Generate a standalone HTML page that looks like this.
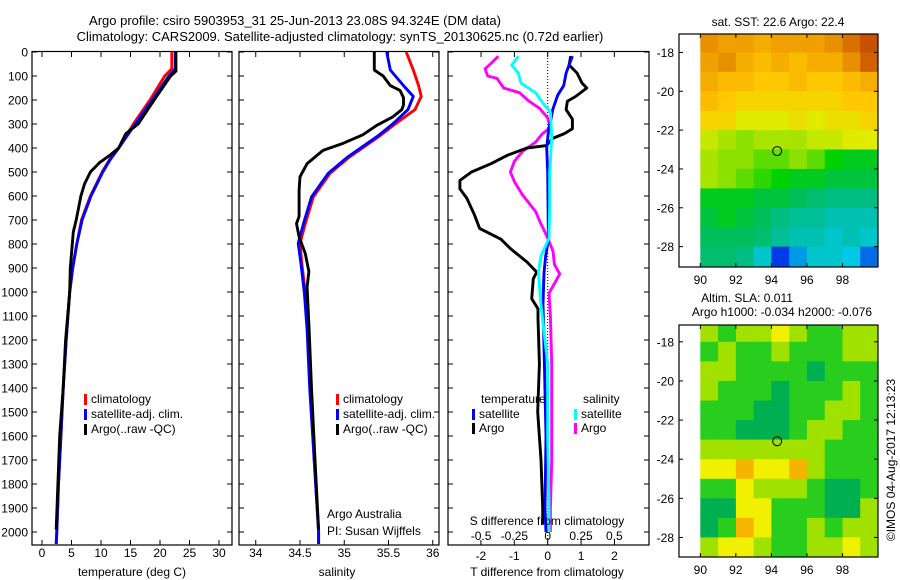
<!DOCTYPE html>
<html><head><meta charset="utf-8">
<style>
html,body{margin:0;padding:0;background:#fff;}
svg{display:block;font-family:"Liberation Sans",Arial,sans-serif;}
text{font-size:12px;fill:#000;}
</style></head>
<body>
<svg id="chart" width="900" height="580" viewBox="0 0 900 580" xmlns="http://www.w3.org/2000/svg">
<text x="295" y="25" text-anchor="middle" style="font-size:13px">Argo profile: csiro 5903953_31 25-Jun-2013 23.08S 94.324E (DM data)</text>
<text x="340" y="41" text-anchor="middle" style="font-size:13px">Climatology: CARS2009. Satellite-adjusted climatology: synTS_20130625.nc (0.72d earlier)</text>
<g id="p1"></g>
<g id="p2"></g>
<g id="p3"></g>
<g id="m1"></g>
<g id="m2"></g>
<text x="778" y="26" text-anchor="middle">sat. SST: 22.6 Argo: 22.4</text>
<text x="747" y="302" text-anchor="middle">Altim. SLA: 0.011</text>
<text x="782" y="316" text-anchor="middle">Argo h1000: -0.034 h2000: -0.076</text>
<text transform="translate(895,460) rotate(-90)" text-anchor="middle">©IMOS 04-Aug-2017 12:13:23</text>
</svg>
<script>
// ---- profile data ----
const tempDepths = [0,70,100,200,300,400,450,500,550,600,700,800,900,1000,1200,1400,1600,1800,2000,2050];
const tempClim   = [22.0,22.0,20.8,18.3,15.5,13.0,11.4,10.2,9.2,8.2,6.7,5.9,5.2,4.7,4.1,3.6,3.2,2.8,2.5,2.4];
const tempSat    = [22.6,22.6,21.5,18.7,15.8,13.0,11.5,10.3,9.3,8.3,6.8,5.9,5.2,4.7,4.1,3.6,3.2,2.8,2.5,2.4];
const argoTDepths= [0,80,100,200,300,340,400,430,460,500,550,600,700,750,900,1000,1200,1400,1600,1800,1990];
const argoTemp   = [22.7,22.7,21.8,19.0,16.3,14.2,13.0,11.5,9.8,8.2,7.2,6.6,5.8,5.3,4.8,4.7,4.0,3.6,3.0,2.7,2.4];

const salDepths = [0,75,140,185,240,296,350,437,505,604,715,797,880,1005,1158,1400,1700,2000,2050];
const salClim   = [35.70,35.78,35.84,35.87,35.80,35.59,35.40,35.06,34.84,34.65,34.56,34.50,34.52,34.56,34.59,34.62,34.66,34.71,34.71];
const salSat    = [35.48,35.52,35.67,35.78,35.72,35.56,35.38,35.04,34.82,34.63,34.54,34.48,34.51,34.55,34.58,34.61,34.66,34.71,34.71];
const argoSDepths=[0,75,100,140,160,190,220,240,270,305,345,380,410,465,520,575,685,715,770,840,915,980,1135,1400,1700,1990];
const argoSal   = [35.34,35.34,35.44,35.52,35.63,35.67,35.67,35.65,35.55,35.37,35.21,34.99,34.76,34.58,34.50,34.49,34.49,34.46,34.49,34.56,34.60,34.58,34.60,34.63,34.67,34.71];

const dtDepths = [17,54,88,130,150,185,205,240,280,320,340,360,390,400,430,465,500,535,570,610,680,735,780,820,875,917,945,1028,1070,1110,1300,1500,1700,1900,1970];
const dtArgo   = [0.69,0.64,0.88,1.03,1.17,0.84,0.59,0.55,0.74,0.74,0.50,0.15,-0.04,-0.62,-1.2,-1.69,-2.28,-2.63,-2.63,-2.42,-2.19,-2.04,-1.40,-1.11,-0.62,-0.33,-0.43,-0.48,-0.29,-0.29,-0.25,-0.3,-0.2,-0.15,-0.15];
const dtSatDepths = [17,54,88,140,180,240,280,320,400,500,780,850,920,1050,1300,1600,1900,2000];
const dtSat    = [0.74,0.64,0.55,0.48,0.3,0.15,0.1,0.03,-0.03,0.0,0.02,-0.06,-0.11,-0.14,-0.1,-0.05,-0.08,-0.05];
const dsDepths = [17,45,70,100,110,150,170,205,235,275,315,340,375,415,455,500,540,595,665,705,775,830,885,925,965,1005,1100,1300,1500,1700,1900,2000];
const dsArgo   = [-0.37,-0.42,-0.47,-0.45,-0.38,-0.33,-0.21,-0.14,-0.06,0.0,0.02,-0.04,-0.09,-0.19,-0.25,-0.28,-0.25,-0.19,-0.09,-0.06,0.0,0.04,0.05,0.09,0.05,0.01,0.02,0.03,0.03,0.03,0.02,0.02];
const dsSatDepths = [17,55,88,130,170,210,250,360,500,640,775,850,915,1055,1300,1600,1900,2000];
const dsSat    = [-0.22,-0.27,-0.22,-0.2,-0.09,-0.04,0.02,0.03,0.015,0.015,0.01,-0.05,-0.07,-0.05,0.0,0.0,0.01,0.01];

const depthTicks = [0,100,200,300,400,500,600,700,800,900,1000,1100,1200,1300,1400,1500,1600,1700,1800,1900,2000];
const tempTicks = [0,5,10,15,20,25,30];
const salTicks = [34,34.5,35,35.5,36];
const salTickLabels = ["34","34.5","35","35.5","36"];
const dtTicks = [-2,-1,0,1,2];
const dsTicks = [-0.5,-0.25,0,0.25,0.5];
const dsTickLabels = ["-0.5","-0.25","0","0.25","0.5"];

// ---- map data (1-degree cells, rows from -17 to -29, cols 90..100) ----
const mapLons = [90,91,92,93,94,95,96,97,98,99];
const mapLats = [-17,-18,-19,-20,-21,-22,-23,-24,-25,-26,-27,-28];
const sstGrid = [
[23.3,23.2,23.2,23.1,23.2,23.2,23.2,23.3,23.5,23.7],
[23.2,23.3,23.1,23.0,23.1,23.0,23.1,23.1,23.3,23.6],
[23.1,23.0,23.0,22.9,22.9,23.0,22.9,22.9,23.0,23.1],
[23.0,22.9,22.8,22.8,22.8,22.8,22.8,22.8,22.9,22.9],
[22.8,22.8,22.6,22.6,22.6,22.7,22.6,22.7,22.7,22.8],
[22.5,22.4,22.3,22.4,22.4,22.4,22.5,22.5,22.6,22.6],
[22.4,22.3,22.3,22.2,22.2,22.3,22.2,22.0,21.9,21.9],
[22.4,22.3,22.2,22.1,22.0,21.9,21.9,21.8,21.8,21.8],
[21.9,21.9,21.9,21.8,21.8,21.7,21.6,21.5,21.5,21.5],
[21.8,21.9,21.8,21.7,21.5,21.4,21.4,21.3,21.3,21.3],
[21.7,21.7,21.7,21.6,21.4,21.3,21.3,21.2,21.3,21.2],
[21.6,21.6,21.5,21.2,20.8,21.0,21.2,21.2,21.1,20.9]];
const slaGrid = [
[2,1,2,2,3,2,1,1,2,2],
[1,2,1,1,2,1,1,1,2,2],
[2,2,1,1,1,1,0,1,1,1],
[2,1,1,1,0,1,1,1,2,1],
[1,1,1,0,0,1,1,2,2,1],
[1,1,0,0,0,1,2,2,1,1],
[2,2,2,2,2,2,2,1,1,1],
[3,3,4,3,3,4,2,1,1,1],
[1,1,3,2,2,2,1,0,0,1],
[0,0,3,3,1,1,1,0,0,2],
[0,1,4,3,1,1,2,1,2,2],
[2,3,3,2,1,1,2,2,3,2]];
const mapLonTicks = [90,92,94,96,98];
const mapLatTicks = [-18,-20,-22,-24,-26,-28];
const argoPos = [94.324,-23.08];

const NS='http://www.w3.org/2000/svg';
function mk(parent,tag,attrs,txt){const e=document.createElementNS(NS,tag);for(const k in attrs)e.setAttribute(k,attrs[k]);if(txt!==undefined)e.textContent=txt;parent.appendChild(e);return e;}

const TOP=52, BOT=545;
const yD=d=>TOP+d*0.24;
const xT=t=>42+t*5.9;
const xS=s=>300+(s-34.5)*88.5;
const xDT=v=>547.7+v*33.4;
const xDS=v=>547.7+v*133.3;

function frame(g,x0,x1,name){
  const r=mk(g,'rect',{x:x0,y:TOP-0.5,width:x1-x0,height:BOT-TOP+0.5,fill:'none',stroke:'#000','stroke-width':1.2});
  
  
}
function yticks(g,x0,x1,labels){
  depthTicks.forEach(d=>{
    const y=yD(d);
    mk(g,'line',{x1:x0,x2:x0+5,y1:y,y2:y,stroke:'#000'});
    mk(g,'line',{x1:x1,x2:x1-5,y1:y,y2:y,stroke:'#000'});
    if(labels){const t=mk(g,'text',{x:x0-4,y:y+4.5,'text-anchor':'end'},String(d));
      
      }
  });
}
function xticks(g,vals,labs,fx,labY,top,bottom){
  vals.forEach((v,i)=>{
    const x=fx(v);
    if(bottom)mk(g,'line',{x1:x,x2:x,y1:BOT,y2:BOT-5,stroke:'#000'});
    if(top)mk(g,'line',{x1:x,x2:x,y1:TOP,y2:TOP+5,stroke:'#000'});
    if(labY){const t=mk(g,'text',{x:x,y:labY,'text-anchor':'middle'},labs[i]);
      
      }
  });
}
function line(g,depths,vals,fx,color,name){
  const pts=depths.map((d,i)=>fx(vals[i]).toFixed(1)+','+yD(d).toFixed(1)).join(' ');
  const p=mk(g,'polyline',{points:pts,fill:'none',stroke:color,'stroke-width':2.9,'stroke-linejoin':'round'});
  
  
}
function legend(g,x,y,color,label){
  mk(g,'rect',{x:x,y:y-9,width:3,height:11,fill:color});
  const t=mk(g,'text',{x:x+7,y:y},label);
  
  
}

// Panel 1
const p1=document.getElementById('p1');
frame(p1,32,232,'temperature-axes');
yticks(p1,32,232,true);
xticks(p1,tempTicks,tempTicks.map(String),xT,557,true,true);
line(p1,tempDepths,tempClim,xT,'#ff0000','climatology-temp-line');
line(p1,tempDepths,tempSat,xT,'#0000ff','satellite-temp-line');
line(p1,argoTDepths,argoTemp,xT,'#000000','argo-temp-line');
legend(p1,84,403,'#ff0000','climatology');
legend(p1,84,418,'#0000ff','satellite-adj. clim.');
legend(p1,84,433,'#000000','Argo(..raw -QC)');
mk(p1,'text',{x:132,y:576,'text-anchor':'middle',},'temperature (deg C)');

// Panel 2
const p2=document.getElementById('p2');
frame(p2,239,439,'salinity-axes');
yticks(p2,239,439,false);
xticks(p2,salTicks,salTickLabels,xS,557,true,true);
line(p2,salDepths,salClim,xS,'#ff0000','climatology-sal-line');
line(p2,salDepths,salSat,xS,'#0000ff','satellite-sal-line');
line(p2,argoSDepths,argoSal,xS,'#000000','argo-sal-line');
legend(p2,336,403,'#ff0000','climatology');
legend(p2,336,418,'#0000ff','satellite-adj. clim.');
legend(p2,336,433,'#000000','Argo(..raw -QC)');
mk(p2,'text',{x:327,y:518,},'Argo Australia');
mk(p2,'text',{x:327,y:535,},'PI: Susan Wijffels');
mk(p2,'text',{x:337,y:576,'text-anchor':'middle',},'salinity');

// Panel 3
const p3=document.getElementById('p3');
frame(p3,448,649,'difference-axes');
yticks(p3,448,649,false);
xticks(p3,dtTicks,dtTicks.map(String),xDT,560,false,true);
xticks(p3,dsTicks,dsTickLabels,xDS,540,true,false);
mk(p3,'line',{x1:xDT(0),x2:xDT(0),y1:TOP,y2:BOT,stroke:'#000','stroke-dasharray':'1,2','stroke-width':1,});
line(p3,dsDepths,dsArgo,xDS,'#ff00ff','argo-sal-diff-line');
line(p3,dtDepths,dtArgo,xDT,'#000000','argo-temp-diff-line');
line(p3,dtSatDepths,dtSat,xDT,'#0000ff','satellite-temp-diff-line');
line(p3,dsSatDepths,dsSat,xDS,'#00ffff','satellite-sal-diff-line');
mk(p3,'text',{x:481,y:403,},'temperature');
mk(p3,'text',{x:583,y:403,},'salinity');
legend(p3,472,418,'#0000ff','satellite');
legend(p3,472,432,'#000000','Argo');
legend(p3,574,418,'#00ffff','satellite');
legend(p3,574,432,'#ff00ff','Argo');
mk(p3,'text',{x:547,y:525,'text-anchor':'middle',},'S difference from climatology');
mk(p3,'text',{x:547,y:576,'text-anchor':'middle',},'T difference from climatology');

// Maps
function lerpColor(stops,v){
  if(v<=stops[0][0])return stops[0][1];
  for(let i=1;i<stops.length;i++){
    if(v<=stops[i][0]){const a=stops[i-1],b=stops[i],f=(v-a[0])/(b[0]-a[0]);
      const c=a[1].map((x,k)=>Math.round(x+(b[1][k]-x)*f));return c;}
  }
  return stops[stops.length-1][1];
}
const sstStops=[[20.8,[0,60,230]],[21.1,[0,200,230]],[21.4,[0,190,150]],[21.7,[0,190,90]],[22.0,[0,210,0]],[22.3,[140,225,0]],[22.6,[225,235,0]],[22.9,[255,200,0]],[23.2,[240,160,0]],[23.7,[200,80,0]]];
const slaStops=[[0,[0,176,80]],[1,[40,205,30]],[2,[160,225,0]],[3,[240,240,0]],[4,[245,180,0]]];

function drawMap(id,grid,stops,x0,x1,y0,y1,latTop,latBot){
  const g=document.getElementById(id);
  const lonL=88.8, lonR=100;
  const fx=lon=>x0+(lon-lonL)/(lonR-lonL)*(x1-x0);
  const fy=lat=>y0+(latTop-lat)/(latTop-latBot)*(y1-y0);
  const clip=mk(g,'clipPath',{id:id+'clip'});
  mk(clip,'rect',{x:x0,y:y0,width:x1-x0,height:y1-y0});
  const cells=mk(g,'g',{'clip-path':'url(#'+id+'clip)'});
  grid.forEach((row,r)=>row.forEach((v,c)=>{
    const xa=fx(mapLons[c]),xb=fx(mapLons[c]+1),ya=fy(mapLats[r]),yb=fy(mapLats[r]-1);
    const col=lerpColor(stops,v);
    const rc=mk(cells,'rect',{x:xa.toFixed(1),y:ya.toFixed(1),width:(xb-xa+0.6).toFixed(1),height:(yb-ya+0.6).toFixed(1),fill:'rgb('+col.join(',')+')'});
    
    
  }));
  const fr=mk(g,'rect',{x:x0,y:y0,width:x1-x0,height:y1-y0,fill:'none',stroke:'#000','stroke-width':1.2});
  
  
  mapLonTicks.forEach(l=>{const x=fx(l);
    mk(g,'line',{x1:x,x2:x,y1:y1,y2:y1-4,stroke:'#000'});
    mk(g,'line',{x1:x,x2:x,y1:y0,y2:y0+4,stroke:'#000'});
    const t=mk(g,'text',{x:x,y:y1+17,'text-anchor':'middle'},String(l));
    
    });
  mapLatTicks.forEach(l=>{const y=fy(l);
    mk(g,'line',{x1:x0,x2:x0+4,y1:y,y2:y,stroke:'#000'});
    mk(g,'line',{x1:x1,x2:x1-4,y1:y,y2:y,stroke:'#000'});
    const t=mk(g,'text',{x:x0-5,y:y+4.5,'text-anchor':'end'},String(l));
    
    });
  const ci=mk(g,'circle',{cx:fx(argoPos[0]),cy:fy(argoPos[1]),r:4.5,fill:'none',stroke:'#000','stroke-width':1});
  
  
}
drawMap('m1',sstGrid,sstStops,679,878,34,267,-17.05,-29.05);
drawMap('m2',slaGrid,slaStops,679,878,325,557,-17.14,-29.0);
</script>
</body></html>
